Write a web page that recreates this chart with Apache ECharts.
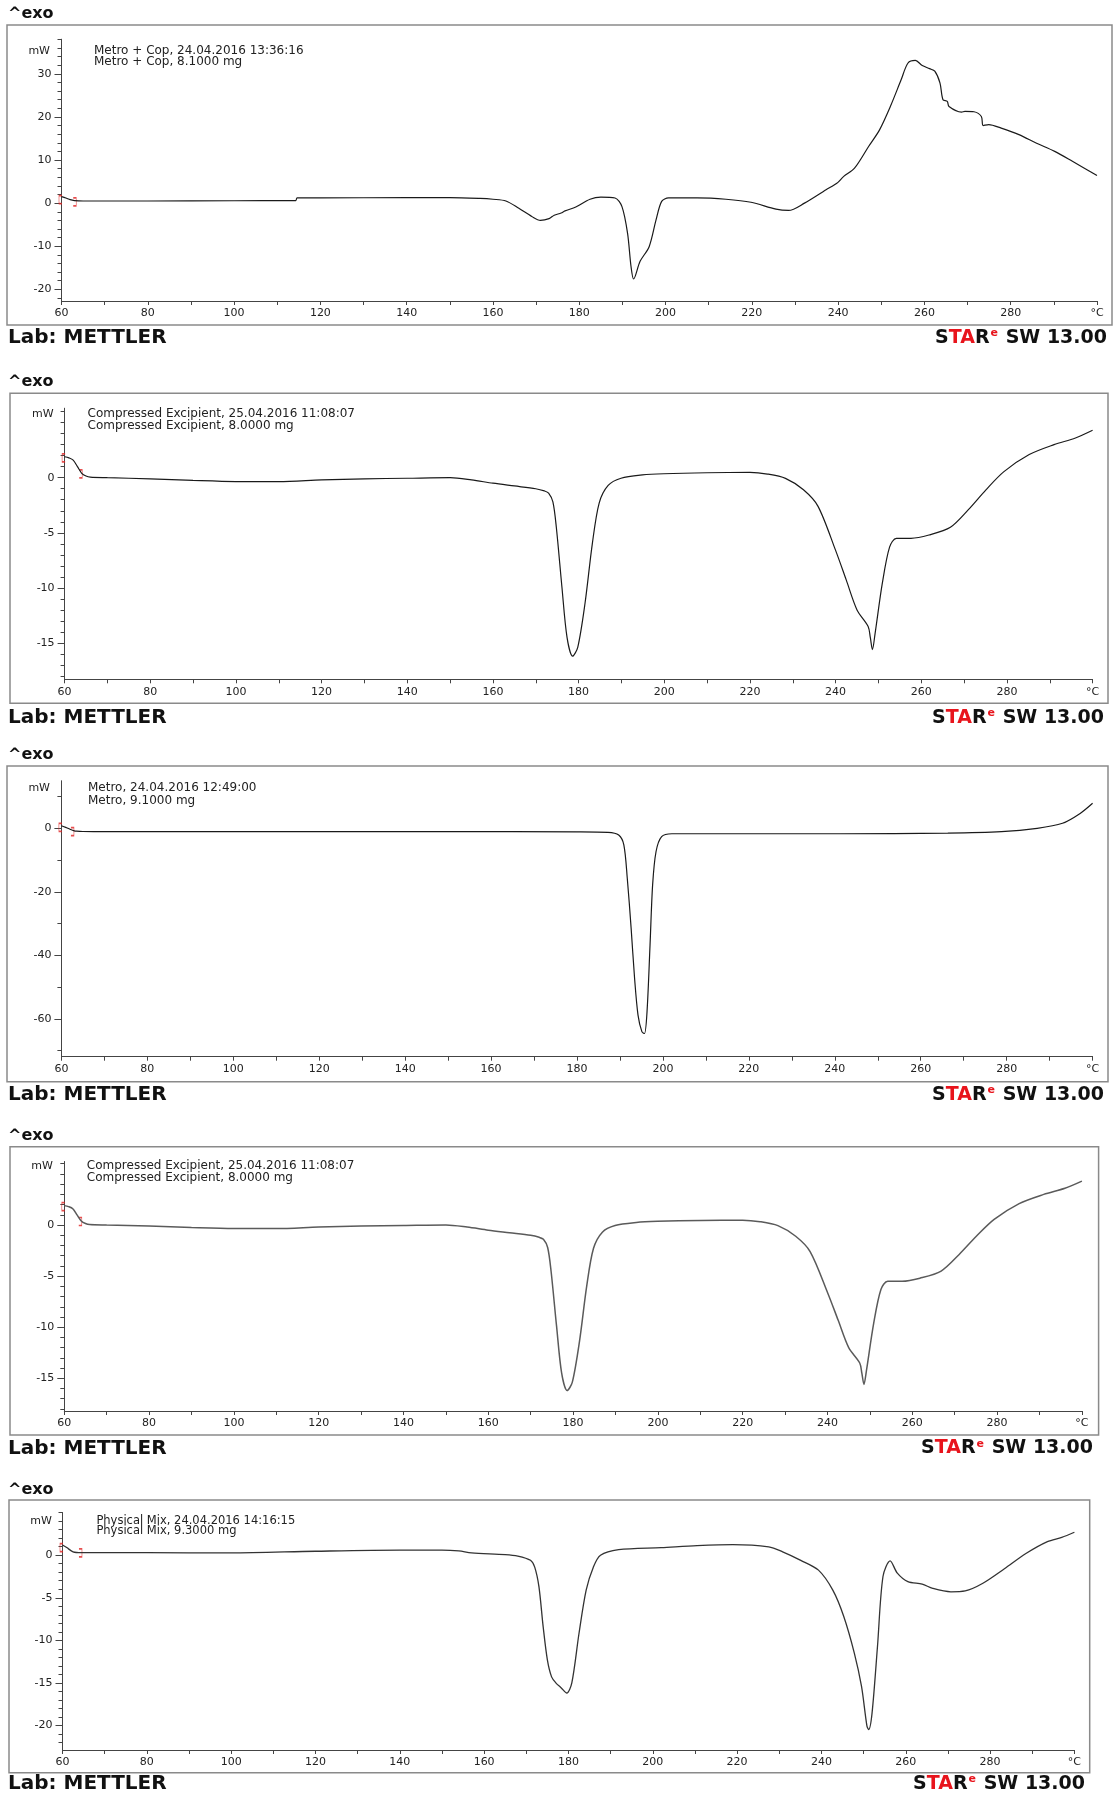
<!DOCTYPE html>
<html>
<head>
<meta charset="utf-8">
<title>DSC thermograms</title>
<script src="https://cdn.jsdelivr.net/npm/echarts@6/dist/echarts.min.js"></script>
<style>
  html, body { margin: 0; padding: 0; background: #fff; }
  #chart { width: 1114px; height: 1793px; }
</style>
</head>
<body>
<div id="chart"></div>
<script>
// temperature axis labels (the last one is printed as the unit)
const tempLabels = [60, 80, 100, 120, 140, 160, 180, 200, 220, 240, 260, 280, 300];

// Metro + Cop
const metroCopT = [60, 61, 62, 63, 65, 80, 100, 114.3, 114.6, 120, 140, 150, 157, 160, 163, 166, 169, 171, 173, 174.2, 175.8, 176.7, 179.2, 182.5, 185, 188.3, 189.9, 191.2, 192, 192.6, 194.1, 196.2, 197.8, 199.1, 200.7, 207.3, 214, 219.8, 225.6, 228.5, 232.2, 237.2, 239.7, 241.3, 243.8, 247.1, 249.6, 252.1, 254.6, 256.2, 257.9, 259.5, 261.2, 262.4, 263.6, 264.3, 265.3, 265.7, 268.6, 269.4, 271.5, 273.2, 273.6, 274.9, 277.8, 281.9, 286, 290.2, 294.3, 300];
const metroCopMW = [1.5, 1.2, 0.8, 0.6, 0.5, 0.5, 0.55, 0.6, 1.2, 1.2, 1.3, 1.3, 1.1, 0.9, 0.5, -1.2, -3.1, -4.0, -3.6, -2.8, -2.3, -1.8, -0.9, 0.9, 1.4, 1.2, -0.8, -7, -14.7, -17.6, -13.5, -10.1, -3.9, 0.4, 1.2, 1.2, 0.9, 0.2, -1.4, -1.7, 0, 3.1, 4.6, 6.2, 8.1, 13.2, 17, 22.4, 28.6, 32.5, 33.1, 31.9, 31.2, 30.6, 27.9, 24, 23.6, 22.4, 21.1, 21.3, 21.2, 20.1, 18, 18.2, 17.4, 15.9, 13.9, 12, 9.7, 6.4];
const metroCopMarks = [[60, 0.8], [63.3, 0.3]];
const metroCopTicks = [-20, -10, 0, 10, 20, 30];

// Compressed Excipient
const excipientT = [60, 61, 62, 63, 64, 65, 66, 70, 80, 90, 100, 110, 120, 130, 140, 150, 155, 160, 165, 170, 172, 173, 174, 174.8, 176.1, 177.3, 178.6, 179.8, 181.5, 183.2, 184.8, 186.9, 189.9, 194.9, 199.9, 210, 220, 224.1, 228.3, 232.5, 235.9, 240, 242.5, 245, 247.6, 248.1, 248.6, 249.2, 250.9, 252.6, 254.2, 257.6, 261.8, 266.8, 271, 275.1, 279.3, 285.2, 291, 296, 300];
const excipientMW = [1.9, 1.8, 1.6, 1.0, 0.4, 0.15, 0.05, 0, -0.1, -0.25, -0.35, -0.35, -0.2, -0.1, -0.05, 0, -0.2, -0.5, -0.75, -1.0, -1.2, -1.4, -2.2, -4.5, -9.9, -14.5, -16.2, -15.4, -11.4, -6, -2.3, -0.7, -0.05, 0.25, 0.36, 0.45, 0.48, 0.33, -0.06, -1.1, -2.6, -6.6, -9.3, -12, -13.5, -14.5, -15.6, -14.2, -9.6, -6.3, -5.5, -5.5, -5.2, -4.5, -2.9, -1.1, 0.55, 2.1, 3.0, 3.6, 4.3];
const excipientMarks = [[60, 1.8], [64, 0.35]];
const excipientTicks = [-15, -10, -5, 0];

// Metro
const metroT = [60, 61, 62, 63, 63.5, 65, 70, 100, 150, 180, 187.2, 189.7, 190.9, 191.7, 192.6, 193.4, 194.2, 195.1, 195.7, 196.3, 197, 197.6, 198.4, 199.7, 202.1, 216.3, 241.3, 266.3, 278.8, 287.1, 293, 297.1, 300];
const metroMW = [0.8, 0.3, -0.3, -0.8, -0.9, -1.0, -1.05, -1.05, -1.05, -1.1, -1.26, -2.1, -5.2, -15.7, -31.5, -47.2, -58.8, -64, -64.6, -57.7, -36.7, -17.8, -7.3, -2.6, -1.7, -1.7, -1.7, -1.5, -1.05, 0, 1.6, 4.7, 7.9];
const metroMarks = [[60, 0.3], [62.8, -1.05]];
const metroTicks = [-60, -40, -20, 0];

// Physical Mix
const mixT = [60, 61, 62.5, 64.5, 70, 80, 100, 120, 140, 150, 154, 157, 165, 168, 171, 172, 173, 174, 175, 176, 177, 178.3, 179.6, 180.8, 182.5, 184.2, 185.9, 187.6, 191.9, 202, 210.5, 219, 227.5, 230.8, 235.1, 239.3, 242.7, 245.3, 247.8, 249.5, 250.8, 251.2, 252, 253.3, 254.6, 256.3, 258, 260.5, 263.9, 266.4, 270.7, 274.1, 278.3, 283.4, 288.5, 293.6, 297, 300];
const mixMW = [1.2, 0.9, 0.4, 0.3, 0.3, 0.3, 0.27, 0.47, 0.6, 0.6, 0.5, 0.27, 0.08, -0.1, -0.6, -1.4, -3.7, -8.4, -12.3, -14.3, -15.0, -15.6, -16.2, -15, -9.2, -4.1, -1.4, 0, 0.66, 0.9, 1.13, 1.25, 0.98, 0.4, -0.6, -1.75, -4.1, -7.2, -11.5, -15.4, -20.1, -20.5, -18.6, -10.7, -2.5, -0.66, -2.1, -3.1, -3.4, -3.9, -4.3, -4.2, -3.3, -1.6, 0.2, 1.6, 2.1, 2.7];
const mixMarks = [[60, 0.9], [64.5, 0.27]];
const mixTicks = [-20, -15, -10, -5, 0];

const FONT = "DejaVu Sans";
const LB = "path://M3,0 L0,0 L0,10 L3,10";
const RB = "path://M0,0 L3,0 L3,10 L0,10";

// layout of each exported METTLER plot (frame box, plot area, y range)
const panels = [
  { notes: ["Metro + Cop, 24.04.2016 13:36:16", "Metro + Cop, 8.1000 mg"],
    t: metroCopT, mw: metroCopMW, marks: metroCopMarks, ticks: metroCopTicks, minor: 2, yMin: -22.7, yMax: 38,
    frame: [7, 25, 1105, 300], grid: [61.5, 39.3, 1035.5, 261.7], exoY: 14, labY: 338, starX: 1107,
    mwX: 50, noteX: 94, noteY: 50.7, noteGap: 11.6, noteSize: 12, line: "#1a1a1a", lw: 1.2 },
  { notes: ["Compressed Excipient, 25.04.2016 11:08:07", "Compressed Excipient, 8.0000 mg"],
    t: excipientT, mw: excipientMW, marks: excipientMarks, ticks: excipientTicks, minor: 1, yMin: -18.3, yMax: 6.3,
    frame: [10, 393.3, 1098, 310], grid: [64.6, 408.3, 1028, 271], exoY: 381.7, labY: 717.7, starX: 1104,
    mwX: 53.6, noteX: 87.5, noteY: 413.7, noteGap: 12.3, noteSize: 12, line: "#1a1a1a", lw: 1.2 },
  { notes: ["Metro, 24.04.2016 12:49:00", "Metro, 9.1000 mg"],
    t: metroT, mw: metroMW, marks: metroMarks, ticks: metroTicks, minor: 10, yMin: -71.9, yMax: 14.9,
    frame: [7, 766, 1101, 315.7], grid: [61.4, 781, 1031.2, 275.7], exoY: 755, labY: 1095, starX: 1104,
    mwX: 50, noteX: 88, noteY: 788.3, noteGap: 12.7, noteSize: 12, line: "#1a1a1a", lw: 1.2 },
  { notes: ["Compressed Excipient, 25.04.2016 11:08:07", "Compressed Excipient, 8.0000 mg"],
    t: excipientT, mw: excipientMW, marks: excipientMarks, ticks: excipientTicks, minor: 1, yMin: -18.2, yMax: 6.2,
    frame: [10, 1146.7, 1088.6, 288.3], grid: [64.3, 1161.7, 1017.6, 249.3], exoY: 1136, labY: 1448.3, starX: 1093,
    mwX: 52.9, noteX: 86.8, noteY: 1165.7, noteGap: 12, noteSize: 12, line: "#5a5a5a", lw: 1.5 },
  { notes: ["Physical Mix, 24.04.2016 14:16:15", "Physical Mix, 9.3000 mg"],
    t: mixT, mw: mixMW, marks: mixMarks, ticks: mixTicks, minor: 1, yMin: -22.9, yMax: 5.0,
    frame: [9, 1500, 1080.7, 272.7], grid: [62.5, 1512.7, 1011.9, 237.3], exoY: 1490, labY: 1784, starX: 1085,
    mwX: 51.8, noteX: 96.4, noteY: 1521, noteGap: 10.3, noteSize: 11.5, line: "#333", lw: 1.3 },
];

function minorValues(p) {
  const out = [];
  const start = Math.ceil(p.yMin / p.minor) * p.minor;
  for (let v = start; v <= p.yMax + 1e-9; v += p.minor) {
    const r = Math.round(v * 100) / 100;
    if (!p.ticks.includes(r)) out.push(r);
  }
  return out;
}

const tempTicks = [];
for (let v = 60; v <= 300; v += 10) tempTicks.push(v);

const grid = [], xAxis = [], yAxis = [], series = [], graphic = [];

panels.forEach((p, i) => {
  grid.push({ left: p.grid[0], top: p.grid[1], width: p.grid[2], height: p.grid[3], containLabel: false, outerBoundsMode: "none" });

  xAxis.push({
    gridIndex: i, type: "value", min: 60, max: 300, position: "bottom",
    axisLine: { onZero: false, lineStyle: { color: "#444", width: 1 } },
    axisTick: { customValues: tempTicks, length: 4, lineStyle: { color: "#444" } },
    axisLabel: { customValues: tempLabels, formatter: v => (v === 300 ? "°C" : String(v)), fontFamily: FONT, fontSize: 11, color: "#222", margin: 7 },
    splitLine: { show: false },
  });

  // major ticks + labels
  yAxis.push({
    gridIndex: i, type: "value", min: p.yMin, max: p.yMax, position: "left",
    axisLine: { show: true, onZero: false, lineStyle: { color: "#444", width: 1 } },
    axisTick: { show: true, customValues: p.ticks, length: 7, lineStyle: { color: "#444" } },
    axisLabel: { customValues: p.ticks, fontFamily: FONT, fontSize: 11, color: "#222", margin: 10 },
    splitLine: { show: false },
  });
  // minor ticks
  yAxis.push({
    gridIndex: i, type: "value", min: p.yMin, max: p.yMax, position: "left", offset: 0,
    axisLine: { show: true, onZero: false, lineStyle: { color: "#444", width: 1 } },
    axisTick: { show: true, customValues: minorValues(p), length: 4, lineStyle: { color: "#444", width: 1 } },
    axisLabel: { show: false },
    splitLine: { show: false },
  });

  series.push({
    type: "line", xAxisIndex: i, yAxisIndex: 2 * i,
    data: p.t.map((x, k) => [x, p.mw[k]]),
    showSymbol: false, smooth: 0.3,
    lineStyle: { color: p.line, width: p.lw },
    silent: true,
  });
  series.push({
    type: "scatter", xAxisIndex: i, yAxisIndex: 2 * i,
    data: p.marks,
    symbol: (v, params) => (params.dataIndex === 0 ? LB : RB),
    symbolSize: [3, 8],
    symbolOffset: [-1, 0],
    itemStyle: { color: "rgba(0,0,0,0)", borderColor: "#e02424", borderWidth: 1 },
    silent: true,
  });

  graphic.push({
    type: "rect", silent: true,
    shape: { x: p.frame[0], y: p.frame[1], width: p.frame[2], height: p.frame[3] },
    style: { fill: "none", stroke: "#8a8a8a", lineWidth: 1.5 },
  });
  graphic.push({
    type: "text", x: 8, y: p.exoY, silent: true,
    style: { text: "^exo", font: `bold 16px "${FONT}"`, fill: "#111", align: "left", verticalAlign: "middle" },
  });
  graphic.push({
    type: "text", x: 8, y: p.labY, silent: true,
    style: { text: "Lab: METTLER", font: `bold 20px "${FONT}"`, fill: "#111", align: "left", verticalAlign: "middle" },
  });
  graphic.push({
    type: "text", x: p.starX, y: p.labY, silent: true,
    style: {
      text: "{k|S}{r|TA}{k|R}{s|e}{k| SW 13.00}", align: "right", verticalAlign: "middle",
      rich: {
        k: { font: `bold 19px "${FONT}"`, fill: "#111" },
        r: { font: `bold 19px "${FONT}"`, fill: "#e8141c" },
        s: { font: `bold 11px "${FONT}"`, fill: "#e8141c", padding: [0, 1, 9, 1] },
      },
    },
  });
  graphic.push({
    type: "text", x: p.mwX, y: p.noteY, silent: true,
    style: { text: "mW", font: `11px "${FONT}"`, fill: "#222", align: "right", verticalAlign: "middle" },
  });
  p.notes.forEach((n, k) => {
    graphic.push({
      type: "text", x: p.noteX, y: p.noteY + k * p.noteGap, silent: true,
      style: { text: n, font: `${p.noteSize}px "${FONT}"`, fill: "#222", align: "left", verticalAlign: "middle" },
    });
  });
});

const chart = echarts.init(document.getElementById("chart"), null, { renderer: "canvas" });
chart.setOption({
  animation: false,
  backgroundColor: "#fff",
  grid, xAxis, yAxis, series, graphic,
});
</script>
</body>
</html>
